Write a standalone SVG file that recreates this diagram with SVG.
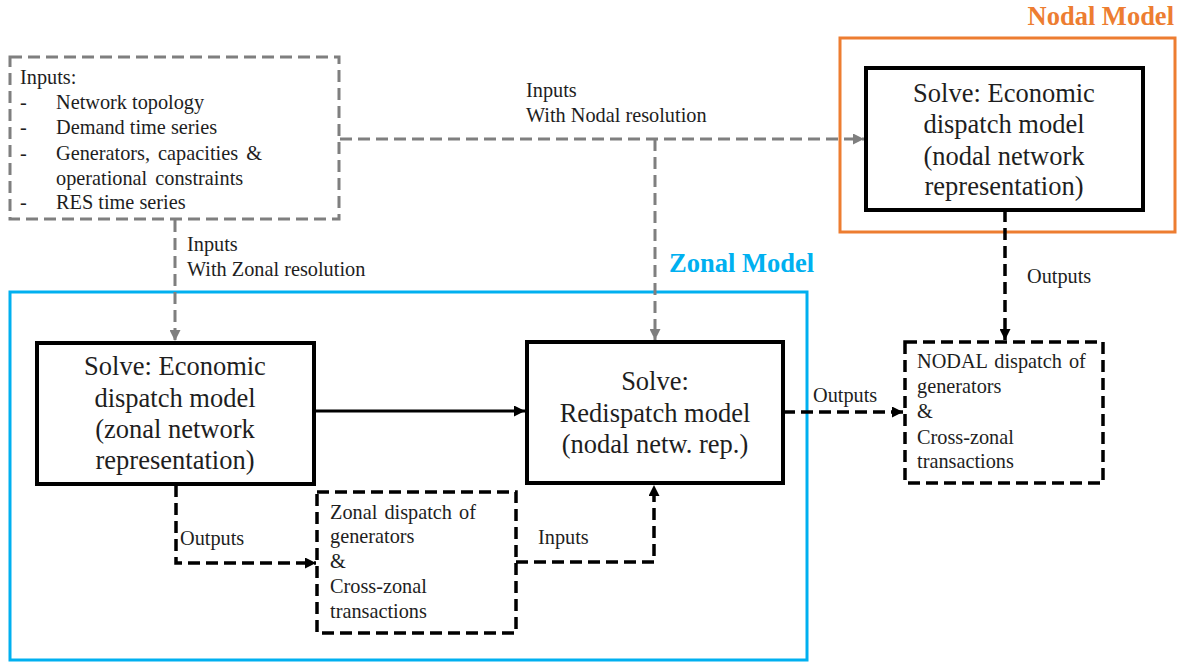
<svg xmlns="http://www.w3.org/2000/svg" width="1184" height="664" viewBox="0 0 1184 664" font-family="'Liberation Serif', 'Times New Roman', serif">
  <style>
    .big { font-family: "Liberation Serif", "Times New Roman", serif; font-size: 26.5px; text-anchor: middle; fill: #1e1e1e; }
    .sm { font-family: "Liberation Serif", "Times New Roman", serif; font-size: 20.3px; fill: #1e1e1e; }
    .lbl { font-family: "Liberation Serif", "Times New Roman", serif; font-size: 20.3px; fill: #1e1e1e; }
    .title { font-family: "Liberation Serif", "Times New Roman", serif; font-size: 26.5px; font-weight: bold; }
    .solid { fill: #ffffff; stroke: #000000; stroke-width: 4; }
    .dbox { fill: #ffffff; stroke: #000000; stroke-width: 3.5; stroke-dasharray: 12 6; }
    .gbox { fill: #ffffff; stroke: #7f7f7f; stroke-width: 3; stroke-dasharray: 12 6; }
    .gline { fill: none; stroke: #7f7f7f; stroke-width: 3; stroke-dasharray: 12 6; }
    .bline { fill: none; stroke: #000000; stroke-width: 3.5; stroke-dasharray: 12 6; }
    .bsolid { fill: none; stroke: #000000; stroke-width: 3; }
  </style>
  <defs>
    <marker id="ah-gray" viewBox="0 0 10 10" refX="10" refY="5" markerWidth="11" markerHeight="11" markerUnits="userSpaceOnUse" orient="auto">
      <path d="M0,0 L10,5 L0,10 z" fill="#7f7f7f"/>
    </marker>
    <marker id="ah-black" viewBox="0 0 10 10" refX="10" refY="5" markerWidth="11" markerHeight="11" markerUnits="userSpaceOnUse" orient="auto">
      <path d="M0,0 L10,5 L0,10 z" fill="#000000"/>
    </marker>
  </defs>
  <rect width="1184" height="664" fill="#ffffff"/>

  <!-- model frames -->
  <g id="zonal-model">
    <rect x="10" y="292" width="797" height="368" fill="none" stroke="#00b0f0" stroke-width="3"/>
    <text class="title" x="669" y="272" fill="#00b0f0">Zonal Model</text>
  </g>
  <g id="nodal-model">
    <rect x="840" y="38" width="335" height="194" fill="none" stroke="#ed7d31" stroke-width="3"/>
    <text class="title" x="1174" y="25" fill="#ed7d31" text-anchor="end">Nodal Model</text>
  </g>

  <!-- connectors -->
  <g id="connectors">
    <path class="gline" d="M340,139 H864" marker-end="url(#ah-gray)"/>
    <path class="gline" d="M655,139 V340" marker-end="url(#ah-gray)"/>
    <path class="gline" d="M175,220 V341" marker-end="url(#ah-gray)"/>
    <path class="bsolid" d="M315,411 H525" marker-end="url(#ah-black)"/>
    <path class="bline" d="M176,485 V563 H316" marker-end="url(#ah-black)"/>
    <path class="bline" d="M516,562 H654 V485" marker-end="url(#ah-black)"/>
    <path class="bline" d="M783,412 H903" marker-end="url(#ah-black)"/>
    <path class="bline" d="M1005,210 V340" marker-end="url(#ah-black)"/>
    <text class="lbl" x="526" y="97">Inputs</text>
    <text class="lbl" x="526" y="122">With Nodal resolution</text>
    <text class="lbl" x="187" y="251">Inputs</text>
    <text class="lbl" x="187" y="276">With Zonal resolution</text>
    <text class="lbl" x="180" y="545">Outputs</text>
    <text class="lbl" x="538" y="544">Inputs</text>
    <text class="lbl" x="813" y="402">Outputs</text>
    <text class="lbl" x="1027" y="283">Outputs</text>
  </g>

  <!-- nodes -->
  <g id="inputs">
    <rect class="gbox" x="10" y="57" width="329" height="162"/>
    <text class="sm" x="20" y="84">Inputs:</text>
    <text class="sm" x="20" y="109">-</text><text class="sm" x="56" y="109">Network topology</text>
    <text class="sm" x="20" y="134">-</text><text class="sm" x="56" y="134">Demand time series</text>
    <text class="sm" x="20" y="160">-</text><text class="sm" x="56" y="160" word-spacing="3">Generators, capacities &amp;</text>
    <text class="sm" x="56" y="185" word-spacing="3">operational constraints</text>
    <text class="sm" x="20" y="209">-</text><text class="sm" x="56" y="209">RES time series</text>
  </g>

  <g id="nodal-econ">
    <rect class="solid" x="866" y="68" width="277" height="142"/>
    <text class="big" x="1004" y="102">Solve: Economic</text>
    <text class="big" x="1004" y="133">dispatch model</text>
    <text class="big" x="1004" y="165">(nodal network</text>
    <text class="big" x="1004" y="195">representation)</text>
  </g>

  <g id="zonal-econ">
    <rect class="solid" x="37" y="343" width="277" height="141"/>
    <text class="big" x="175" y="375">Solve: Economic</text>
    <text class="big" x="175" y="407">dispatch model</text>
    <text class="big" x="175" y="438">(zonal network</text>
    <text class="big" x="175" y="469">representation)</text>
  </g>

  <g id="redispatch">
    <rect class="solid" x="527" y="342" width="256" height="141"/>
    <text class="big" x="655" y="390">Solve:</text>
    <text class="big" x="655" y="422">Redispatch model</text>
    <text class="big" x="655" y="453">(nodal netw. rep.)</text>
  </g>

  <g id="zonal-dispatch">
    <rect class="dbox" x="317" y="492" width="199" height="141"/>
    <text class="sm" x="330" y="519" word-spacing="2">Zonal dispatch of</text>
    <text class="sm" x="330" y="543">generators</text>
    <text class="sm" x="330" y="568">&amp;</text>
    <text class="sm" x="330" y="593">Cross-zonal</text>
    <text class="sm" x="330" y="618">transactions</text>
  </g>

  <g id="nodal-dispatch">
    <rect class="dbox" x="905" y="342" width="198" height="141"/>
    <text class="sm" x="917" y="368" word-spacing="2">NODAL dispatch of</text>
    <text class="sm" x="917" y="393">generators</text>
    <text class="sm" x="917" y="418">&amp;</text>
    <text class="sm" x="917" y="444">Cross-zonal</text>
    <text class="sm" x="917" y="468">transactions</text>
  </g>
</svg>
